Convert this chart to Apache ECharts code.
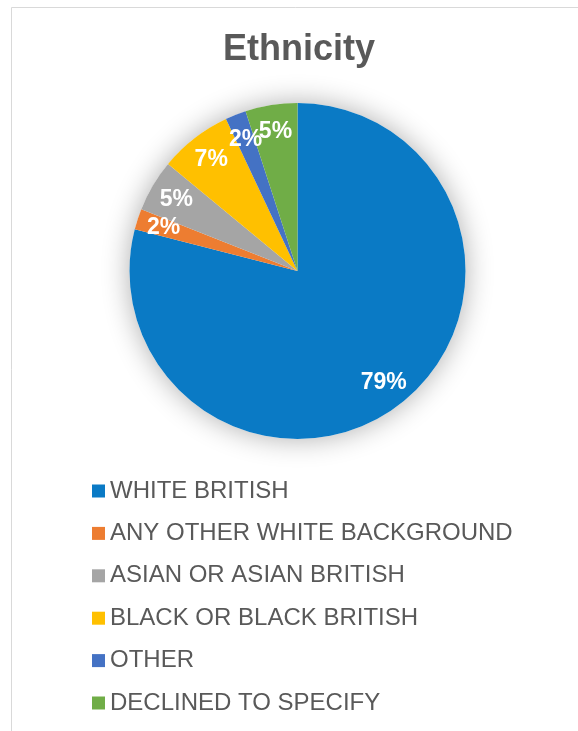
<!DOCTYPE html>
<html>
<head>
<meta charset="utf-8">
<title>Ethnicity</title>
<script src="https://cdn.jsdelivr.net/npm/echarts@6/dist/echarts.min.js"></script>
<style>
  html, body { margin: 0; padding: 0; background: #ffffff; }
  #chart { width: 578px; height: 731px; }
</style>
</head>
<body>
<div id="chart"></div>
<script>
// Ethnicity breakdown (percent of respondents)
const categories = [
  'WHITE BRITISH',
  'ANY OTHER WHITE BACKGROUND',
  'ASIAN OR ASIAN BRITISH',
  'BLACK OR BLACK BRITISH',
  'OTHER',
  'DECLINED TO SPECIFY'
];
const shares = [79, 2, 5, 7, 2, 5];
const sliceColors = ['#0A7AC5', '#ED7D31', '#A5A5A5', '#FFC000', '#4472C4', '#70AD47'];

const FONT = 'Arial, "Liberation Sans", Helvetica, sans-serif';
const CENTER = [297.5, 271];
const R = 168;

const slices = categories.map((name, i) => ({
  name: name,
  value: shares[i],
  itemStyle: { color: sliceColors[i] }
}));
const total = shares.reduce((a, b) => a + b, 0);

const chart = echarts.init(document.getElementById('chart'), null, { renderer: 'canvas' });

chart.setOption({
  animation: false,
  backgroundColor: '#ffffff',
  graphic: [{
    type: 'rect',
    z: -10,
    silent: true,
    shape: { x: 11.5, y: 7.5, width: 700, height: 800 },
    style: { fill: 'none', stroke: '#d9d9d9', lineWidth: 1 }
  }],
  title: {
    text: 'Ethnicity',
    left: 299,
    top: 32,
    textAlign: 'center',
    padding: 0,
    textStyle: { fontFamily: FONT, fontSize: 36, fontWeight: 'bold', color: '#595959' }
  },
  legend: {
    orient: 'vertical',
    left: 92,
    top: 479,
    padding: 0,
    itemWidth: 13,
    itemHeight: 13,
    itemGap: 18.4,
    icon: 'rect',
    selectedMode: false,
    data: categories.map((name, i) => ({ name: name, itemStyle: { color: sliceColors[i] } })),
    textStyle: { fontFamily: FONT, fontSize: 24, lineHeight: 24, color: '#595959' }
  },
  series: [
    {
      // soft drop shadow behind the whole pie
      type: 'pie',
      name: 'shadow',
      center: CENTER,
      radius: R,
      silent: true,
      z: 1,
      label: { show: false },
      labelLine: { show: false },
      itemStyle: {
        color: '#ffffff',
        shadowBlur: 28,
        shadowColor: 'rgba(0,0,0,0.32)'
      },
      data: [{ name: 'total', value: total }]
    },
    {
      type: 'pie',
      name: 'Ethnicity',
      center: CENTER,
      radius: R,
      startAngle: 90,
      clockwise: true,
      z: 2,
      silent: true,
      label: { show: false },
      labelLine: { show: false },
      itemStyle: { borderWidth: 0 },
      data: slices
    },
    {
      // transparent ring that carries the percentage labels near the rim
      type: 'pie',
      name: 'labels',
      center: CENTER,
      radius: [R * 0.64, R],
      startAngle: 90,
      clockwise: true,
      z: 3,
      silent: true,
      avoidLabelOverlap: false,
      minShowLabelAngle: 0,
      itemStyle: { color: 'rgba(0,0,0,0)', borderWidth: 0 },
      label: {
        show: true,
        position: 'inside',
        formatter: '{c}%',
        fontFamily: FONT,
        fontSize: 23,
        fontWeight: 'bold',
        color: '#ffffff'
      },
      labelLayout: { hideOverlap: false },
      labelLine: { show: false },
      data: categories.map((name, i) => ({ name: name, value: shares[i] }))
    }
  ]
});
</script>
</body>
</html>
